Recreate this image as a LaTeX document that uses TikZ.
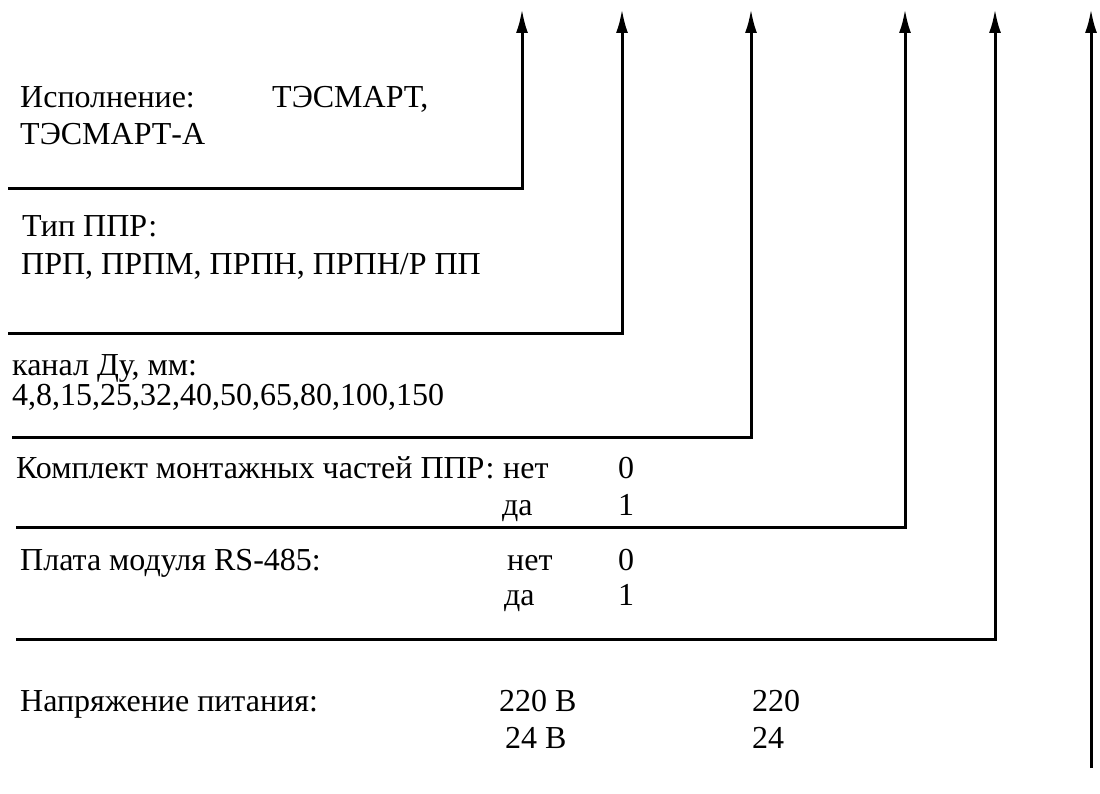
\documentclass[tikz,border=0pt]{standalone}
\usepackage{fontspec}
\setmainfont{Liberation Serif}
\usetikzlibrary{arrows.meta}

\tikzset{
  lead/.style={line width=3pt, -{Latex[length=24pt,width=12pt]}},
  txt/.style={anchor=base west, inner sep=0pt, font=\fontsize{32}{38}\selectfont},
}

\begin{document}
\begin{tikzpicture}[x=1pt,y=-1pt]
\useasboundingbox (0,0) rectangle (1100,794);

% Start points of the leader lines (left side, top to bottom)
\coordinate (s1) at (8,189);
\coordinate (s2) at (8,333);
\coordinate (s3) at (12,437);
\coordinate (s4) at (16,527);
\coordinate (s5) at (16,639);
\coordinate (s6) at (1091,768);

% Arrow tips (top edge, left to right)
\coordinate (t1) at (522,9);
\coordinate (t2) at (622,9);
\coordinate (t3) at (751,9);
\coordinate (t4) at (905,9);
\coordinate (t5) at (995,9);
\coordinate (t6) at (1091,9);

% Leader lines
\draw[lead] (s1) -| (t1);
\draw[lead] (s2) -| (t2);
\draw[lead] (s3) -| (t3);
\draw[lead] (s4) -| (t4);
\draw[lead] (s5) -| (t5);
\draw[lead] (s6) -- (t6);

% Version
\node[txt] (isp) at (20,108) {Исполнение:};
\node[txt] (ispB) at (272,108) {ТЭСМАРТ,};
\node[txt] (ispA) at (20,145) {ТЭСМАРТ-А};

% Type of flow converter
\node[txt] (typ) at (22,237) {Тип ППР:};
\node[txt] (typL) at (21,275) {ПРП, ПРПМ, ПРПН, ПРПН/Р ПП};

% Nominal bore
\node[txt] (du) at (12,375) {канал Ду, мм:};
\node[txt] (duL) at (12,405) {4,8,15,25,32,40,50,65,80,100,150};

% Mounting kit
\node[txt] (kmp) at (16,478) {Комплект монтажных частей ППР:};
\node[txt] (kmpN) at (503,478) {нет};
\node[txt] (kmp0) at (618,478) {0};
\node[txt] (kmpY) at (502,515) {да};
\node[txt] (kmp1) at (618,515) {1};

% RS-485 board
\node[txt] (rs) at (20,570) {Плата модуля RS-485:};
\node[txt] (rsN) at (507,570) {нет};
\node[txt] (rs0) at (618,570) {0};
\node[txt] (rsY) at (504,605) {да};
\node[txt] (rs1) at (618,605) {1};

% Supply voltage
\node[txt] (pw) at (20,711) {Напряжение питания:};
\node[txt] (pw220) at (499,711) {220 В};
\node[txt] (pwA) at (752,711) {220};
\node[txt] (pw24) at (505,748) {24 В};
\node[txt] (pwB) at (752,748) {24};

\end{tikzpicture}
\end{document}
